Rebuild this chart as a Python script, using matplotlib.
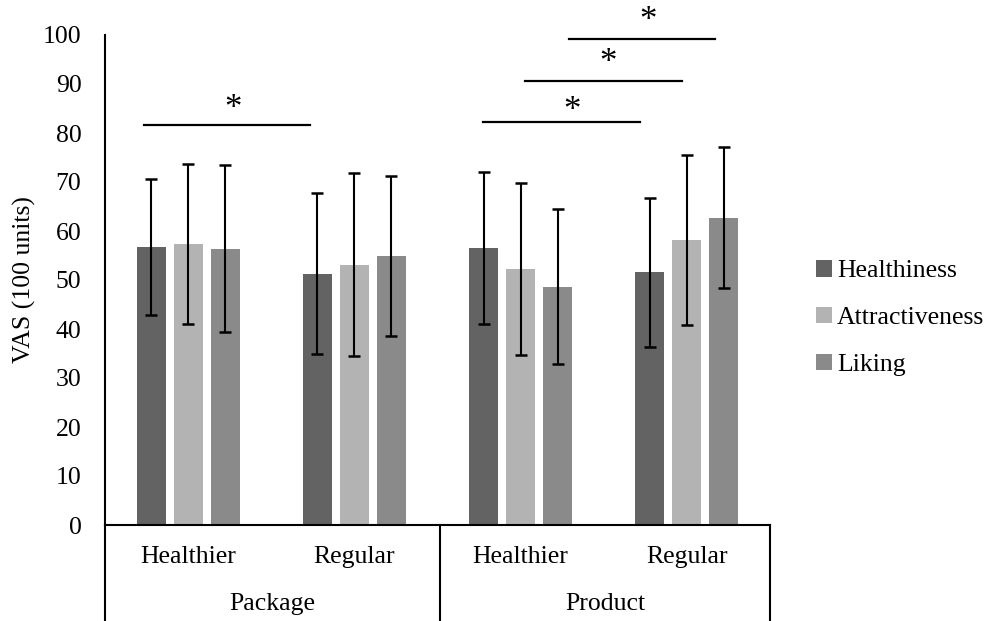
import matplotlib.pyplot as plt
import numpy as np

plt.rcParams['font.family'] = ['Liberation Serif', 'DejaVu Serif']

conditions = ['Healthier', 'Regular', 'Healthier', 'Regular']
factors = ['Package', 'Product']
series = ['Healthiness', 'Attractiveness', 'Liking']
colors = ['#636363', '#b3b3b3', '#8a8a8a']

healthiness = [56.8, 51.3, 56.5, 51.6]
attractiveness = [57.4, 53.1, 52.2, 58.2]
liking = [56.4, 54.9, 48.6, 62.7]
healthiness_sd = [13.9, 16.5, 15.5, 15.2]
attractiveness_sd = [16.3, 18.7, 17.5, 17.4]
liking_sd = [17.0, 16.4, 15.8, 14.4]

# significance brackets: (x start, x end, y)
sig_lines = [(-0.264, 0.733, 81.6), (1.772, 2.718, 82.2),
             (2.026, 2.972, 90.6), (2.289, 3.169, 99.1)]
sig_stars = [(0.27, 85.7), (2.309, 85.4), (2.524, 95.2), (2.768, 103.7)]

fs = 18.5

fig = plt.figure(figsize=(9.94, 6.21), dpi=100)
ax = fig.add_axes([105/994, 1 - 525/621, 665/994, 490/621])

x = np.arange(len(conditions))
w = 0.174
step = 0.223
vals = [healthiness, attractiveness, liking]
sds = [healthiness_sd, attractiveness_sd, liking_sd]
for i, (v, sd) in enumerate(zip(vals, sds)):
    ax.bar(x + (i - 1) * step, v, w, color=colors[i], label=series[i],
           yerr=sd, error_kw=dict(ecolor='black', elinewidth=1.5,
                                  capsize=4.6, capthick=1.8))

for x0, x1, y in sig_lines:
    ax.plot([x0, x1], [y, y], color='black', lw=1.6, clip_on=False)
for sx, sy in sig_stars:
    ax.text(sx, sy - 1.0, '*', ha='center', va='center', fontsize=25, clip_on=False)

ax.set_xlim(-0.5, 3.5)
ax.set_ylim(0, 100)
ax.set_yticks(range(0, 101, 10))
ax.tick_params(axis='y', length=0, labelsize=fs, pad=17)
ax.set_xticks([])
for s in ['top', 'right']:
    ax.spines[s].set_visible(False)
ax.spines['left'].set_linewidth(1.5)
ax.spines['bottom'].set_linewidth(1.5)
ax.set_ylabel('VAS (100 units)', fontsize=fs, labelpad=5)

# category axis below
depth = (620 - 525) / 490
for xd in [0, 0.504, 1.0]:
    ax.plot([xd, xd], [0, -depth], transform=ax.transAxes, color='black',
            lw=1.5, clip_on=False)
for xi, lab in zip(x, conditions):
    ax.text(xi, -32 / 4.9, lab, ha='center', va='center', fontsize=fs)
ax.text(0.252, -79 / 490, factors[0], transform=ax.transAxes,
        ha='center', va='center', fontsize=fs)
ax.text(0.752, -79 / 490, factors[1], transform=ax.transAxes,
        ha='center', va='center', fontsize=fs)

handles, labels = ax.get_legend_handles_labels()
fig.legend(handles, labels, loc='center left', bbox_to_anchor=(793/994, 1 - 318/621),
           frameon=False, fontsize=fs, handlelength=0.6, handleheight=0.6,
           handletextpad=0.22, labelspacing=0.95)

fig.savefig('out.png', dpi=100)
